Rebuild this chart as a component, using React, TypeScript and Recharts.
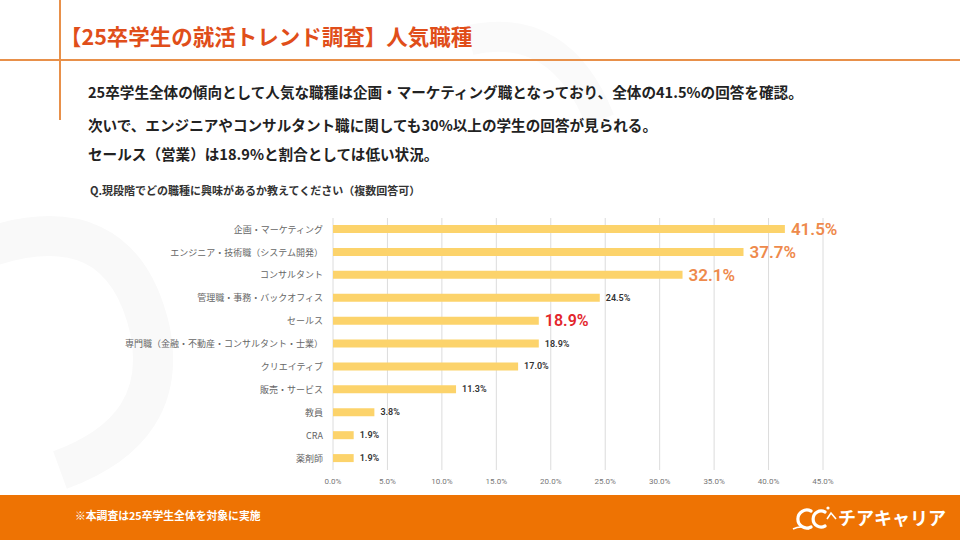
import React from 'react';
import { BarChart, Bar, XAxis, YAxis, CartesianGrid, LabelList } from 'recharts';

const categories = [
  '企画・マーケティング',
  'エンジニア・技術職（システム開発）',
  'コンサルタント',
  '管理職・事務・バックオフィス',
  'セールス',
  '専門職（金融・不動産・コンサルタント・士業）',
  'クリエイティブ',
  '販売・サービス',
  '教員',
  'CRA',
  '薬剤師',
];
const values = [41.5, 37.7, 32.1, 24.5, 18.9, 18.9, 17.0, 11.3, 3.8, 1.9, 1.9];
const xTicks = [0, 5, 10, 15, 20, 25, 30, 35, 40, 45];
const orangeLabels = [0, 1, 2];
const redLabels = [4];

const titleText = '【25卒学生の就活トレンド調査】人気職種';
const bodyLines = [
  '25卒学生全体の傾向として人気な職種は企画・マーケティング職となっており、全体の41.5%の回答を確認。',
  '次いで、エンジニアやコンサルタント職に関しても30%以上の学生の回答が見られる。',
  'セールス（営業）は18.9%と割合としては低い状況。',
];
const questionText = 'Q.現段階でどの職種に興味があるか教えてください（複数回答可）';
const footnoteText = '※本調査は25卒学生全体を対象に実施';
const brandText = 'チアキャリア';

const data = categories.map((name, i) => ({ name, value: values[i] }));

const JP = '"Noto Sans CJK JP", "Noto Sans", sans-serif';

const ValueLabel = (props: any) => {
  const { x, y, width, height, value, index } = props;
  const tx = Number(x) + Number(width) + 6;
  const ty = Number(y) + Number(height) / 2;
  const txt = `${Number(value).toFixed(1)}%`;
  if (orangeLabels.includes(index)) {
    return (
      <text x={tx} y={ty} dominantBaseline="central" fill="#EE8A4C" fontSize={17} fontWeight={600} fontFamily="Roboto, sans-serif">
        {txt}
      </text>
    );
  }
  if (redLabels.includes(index)) {
    return (
      <text x={tx} y={ty} dominantBaseline="central" fill="#E3262C" fontSize={16} fontWeight={600} fontFamily="Roboto, sans-serif">
        {txt}
      </text>
    );
  }
  return (
    <text x={tx} y={ty} dominantBaseline="central" fill="#333" fontSize={9} fontWeight={600} fontFamily="Roboto, sans-serif">
      {txt}
    </text>
  );
};

export default function App() {
  return (
    <div style={{ position: 'fixed', left: 0, top: 0, width: 960, height: 540, background: '#fff', overflow: 'hidden', fontFamily: JP }}>
      {/* faint watermark */}
      <svg width={960} height={540} style={{ position: 'absolute', left: 0, top: 0 }}>
        <path d="M -20 250 Q 120 200 150 330 Q 170 430 60 470" fill="none" stroke="#f9f9f9" strokeWidth={40} />
        <path d="M 470 40 Q 560 20 600 120" fill="none" stroke="#fafafa" strokeWidth={30} />
      </svg>
      {/* frame lines */}
      <div style={{ position: 'absolute', left: 59, top: 0, width: 2, height: 120, background: '#E8904A' }} />
      <div style={{ position: 'absolute', left: 0, top: 59, width: 960, height: 2, background: '#E8904A' }} />
      <div style={{ position: 'absolute', left: 60, top: 22, fontSize: 21.5, fontWeight: 700, color: '#E04E1A', whiteSpace: 'nowrap', lineHeight: '28px' }}>
        {titleText}
      </div>
      {bodyLines.map((l, i) => (
        <div key={i} style={{ position: 'absolute', left: 88, top: [82, 115, 144][i], fontSize: 14.6, fontWeight: 700, color: '#222', whiteSpace: 'nowrap', lineHeight: '20px' }}>
          {l}
        </div>
      ))}
      <div style={{ position: 'absolute', left: 90, top: 183, fontSize: 11, fontWeight: 700, color: '#333', whiteSpace: 'nowrap', lineHeight: '14px' }}>
        {questionText}
      </div>
      <div style={{ position: 'absolute', left: 0, top: 210 }}>
        <BarChart width={960} height={290} data={data} layout="vertical" margin={{ top: 8, right: 137, bottom: 0, left: 133 }}>
          <CartesianGrid horizontal={false} stroke="#dcdcdc" />
          <XAxis
            type="number"
            domain={[0, 45]}
            ticks={xTicks}
            tickFormatter={(v: number) => `${v.toFixed(1)}%`}
            axisLine={false}
            tickLine={false}
            tick={{ fontSize: 8, fill: '#777', fontFamily: 'Roboto, sans-serif' }}
            interval={0}
          />
          <YAxis
            type="category"
            dataKey="name"
            width={200}
            axisLine={false}
            tickLine={false}
            tickMargin={4}
            interval={0}
            tick={{ fontSize: 9, fill: '#666', fontFamily: JP }}
          />
          <Bar dataKey="value" fill="#FCD36B" barSize={8} isAnimationActive={false}>
            <LabelList dataKey="value" content={ValueLabel} />
          </Bar>
        </BarChart>
      </div>
      {/* footer */}
      <div style={{ position: 'absolute', left: 0, top: 495, width: 960, height: 45, background: '#EE7303' }} />
      <div style={{ position: 'absolute', left: 75, top: 508, fontSize: 10.8, fontWeight: 700, color: '#fff', whiteSpace: 'nowrap', lineHeight: '14px' }}>
        {footnoteText}
      </div>
      <svg width={48} height={30} style={{ position: 'absolute', left: 791, top: 503 }}>
        <path d="M 20 8 A 9 9 0 1 0 20 24" fill="none" stroke="#fff" strokeWidth={3.2} strokeLinecap="round" />
        <path d="M 34 9 A 8 8 0 1 0 34 23" fill="none" stroke="#fff" strokeWidth={3.2} strokeLinecap="round" />
        <path d="M 36 16 L 40 10 L 45 16" fill="none" stroke="#fff" strokeWidth={1.6} />
        <path d="M 2 26 Q 10 22 18 26" fill="none" stroke="#fff" strokeWidth={1.6} />
        <circle cx={37} cy={5} r={1.6} fill="#fff" />
      </svg>
      <div style={{ position: 'absolute', left: 838, top: 505, fontSize: 18, fontWeight: 700, color: '#fff', whiteSpace: 'nowrap', lineHeight: '24px' }}>
        {brandText}
      </div>
    </div>
  );
}
